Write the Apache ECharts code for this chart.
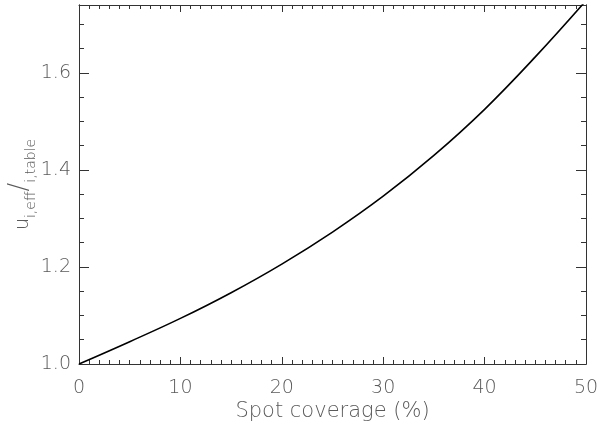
<!DOCTYPE html>
<html>
<head>
<meta charset="utf-8">
<script src="https://cdn.jsdelivr.net/npm/echarts@6/dist/echarts.min.js"></script>
<style>
  html, body { margin: 0; padding: 0; background: #fff; }
  #chart { width: 600px; height: 426px; }
</style>
</head>
<body>
<div id="chart"></div>
<script>
// spot coverage in percent
const coverage = [0, 5, 10, 15, 20, 25, 30, 35, 40, 45, 50]
// ratio u_i,eff / u_i,table
const ratio = [1.000, 1.046, 1.094, 1.147, 1.206, 1.272, 1.346, 1.430, 1.525, 1.633, 1.749]

const axisColor = '#333'
const textColor = '#5a5a5a'
const font = 'DejaVu Sans'
const weight = 200

const points = coverage.map((c, i) => [c, ratio[i]])

// IDL style box: ticks inside on every side, major and minor on separate axes
function yAxisDef(pos, major, labels) {
  return {
    type: 'value',
    position: pos,
    min: 1.0,
    max: 1.74,
    interval: major ? 0.2 : 0.05,
    axisLine: { show: true, lineStyle: { color: axisColor, width: 1 } },
    axisTick: { show: true, inside: true, length: major ? 10 : 5, lineStyle: { color: axisColor } },
    axisLabel: {
      show: labels,
      showMaxLabel: false,
      margin: 8,
      color: textColor,
      fontFamily: font,
      fontWeight: weight,
      fontSize: 19,
      formatter: v => v.toFixed(1)
    },
    splitLine: { show: false }
  }
}

const option = {
  animation: false,
  backgroundColor: '#fff',
  grid: { left: 79, right: 14, top: 5, bottom: 62, containLabel: false, outerBoundsMode: 'none' },
  xAxis: [
    {
      type: 'value',
      position: 'bottom',
      min: 0,
      max: 50,
      interval: 10,
      name: 'Spot coverage (%)',
      nameLocation: 'middle',
      nameGap: 37,
      nameMoveOverlap: false,
      nameTextStyle: { color: textColor, fontFamily: font, fontWeight: weight, fontSize: 21 },
      axisLine: { show: true, lineStyle: { color: axisColor, width: 1 } },
      axisTick: { show: true, inside: true, length: 7, lineStyle: { color: axisColor } },
      minorTick: { show: true, splitNumber: 10, length: 4, lineStyle: { color: axisColor } },
      axisLabel: { margin: 15, color: textColor, fontFamily: font, fontWeight: weight, fontSize: 19 },
      splitLine: { show: false }
    },
    {
      type: 'value',
      position: 'top',
      min: 0,
      max: 50,
      interval: 10,
      axisLine: { show: true, lineStyle: { color: axisColor, width: 1 } },
      axisTick: { show: true, inside: true, length: 7, lineStyle: { color: axisColor } },
      minorTick: { show: true, splitNumber: 10, length: 4, lineStyle: { color: axisColor } },
      axisLabel: { show: false },
      splitLine: { show: false }
    }
  ],
  yAxis: [
    Object.assign(yAxisDef('left', true, true), {
      name: '{u|u}{sub|i,eff}{sl|/}{sub|i,table}',
      nameLocation: 'middle',
      nameRotate: 90,
      nameGap: 46,
      nameMoveOverlap: false,
      nameTextStyle: {
        color: textColor,
        fontFamily: font,
        fontWeight: weight,
        rich: {
          u: { fontSize: 19, color: textColor, fontFamily: font, fontWeight: weight, lineHeight: 26, verticalAlign: 'bottom' },
          sub: { fontSize: 14, color: textColor, fontFamily: font, fontWeight: weight, lineHeight: 26, verticalAlign: 'bottom', padding: [0, 0, -5, 0] },
          sl: { fontSize: 26, color: textColor, fontFamily: font, fontWeight: weight, lineHeight: 26, verticalAlign: 'bottom' }
        }
      }
    }),
    yAxisDef('left', false, false),
    yAxisDef('right', true, false),
    yAxisDef('right', false, false)
  ],
  series: [
    {
      type: 'line',
      xAxisIndex: 0,
      yAxisIndex: 0,
      data: points,
      smooth: 0.4,
      showSymbol: false,
      clip: true,
      lineStyle: { color: '#000', width: 1.6 }
    }
  ]
}

const chart = echarts.init(document.getElementById('chart'))
chart.setOption(option)
</script>
</body>
</html>
